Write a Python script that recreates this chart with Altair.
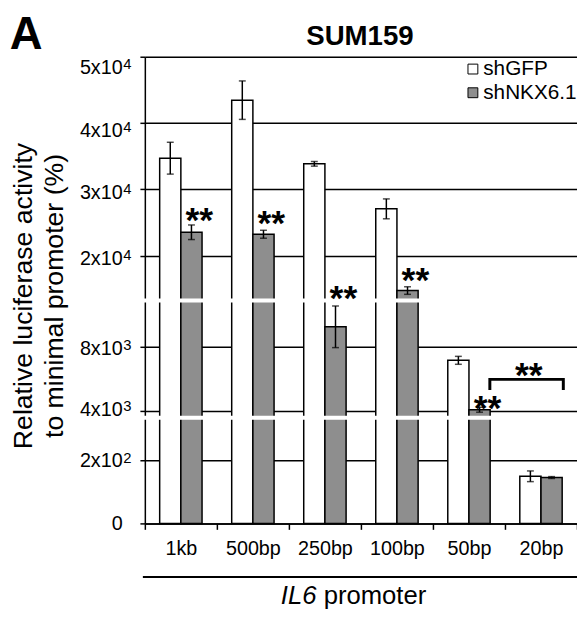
import altair as alt
import pandas as pd

# ---------------- data ----------------
categories = ["1kb", "500bp", "250bp", "100bp", "50bp", "20bp"]
groups = ["shGFP", "shNKX6.1"]
shGFP_mean = [34700, 43450, 33850, 27060, 7170, 150]
shGFP_err = [2400, 2900, 350, 1500, 250, 17]
shNKX_mean = [23530, 23230, 9280, 14740, 4060, 146]
shNKX_err = [1100, 600, 1310, 570, 155, 3]

star_categories = ["1kb", "500bp", "250bp", "100bp", "50bp"]
star_y = [26660, 26170, 14890, 17620, 4727]

bracket_x = [4.79, 4.79, 5.81, 5.81]
bracket_y = [5300, 5970, 5970, 5300]
bracket_star_x = [5.33]
bracket_star_y = [6795]

y_tick_values = [0, 200, 4000, 8000, 20000, 30000, 40000, 50000]
y_tick_base = ["0", "2x10", "4x10", "8x10", "2x10", "3x10", "4x10", "5x10"]
y_tick_exp = ["", "2", "3", "3", "4", "4", "4", "4"]
# where each tick label sits in the figure (the top two sit a little below their lines)
y_tick_label_at = [0, 200, 4106, 7957, 19583, 29657, 38883, 48510]

# broken axis: domain break points of the piecewise scale
axis_domain = [0, 336, 3550, 10940, 13250, 50000]
break_values = [13250, 336]

y_title = ["Relative luciferase activity", "to  minimal promoter (%)"]

# ---------------- tables ----------------
rows = []
for i, c in enumerate(categories):
    rows.append({"cat": c, "grp": groups[0], "mean": shGFP_mean[i],
                 "lo": shGFP_mean[i] - shGFP_err[i], "hi": shGFP_mean[i] + shGFP_err[i]})
    rows.append({"cat": c, "grp": groups[1], "mean": shNKX_mean[i],
                 "lo": shNKX_mean[i] - shNKX_err[i], "hi": shNKX_mean[i] + shNKX_err[i]})
df = pd.DataFrame(rows)
stars = pd.DataFrame({"cat": star_categories, "grp": [groups[1]] * len(star_categories),
                      "y": star_y, "label": ["**"] * len(star_categories)})
bracket = pd.DataFrame({"x": bracket_x, "y": bracket_y, "order": list(range(len(bracket_x)))})
bstar = pd.DataFrame({"x": bracket_star_x, "y": bracket_star_y, "label": ["**"]})
breaks = pd.DataFrame({"b": break_values})
ylab = pd.DataFrame({"pos": y_tick_label_at, "base": y_tick_base, "exp": y_tick_exp})

W, H = 438, 473
FONT = "Liberation Sans"

yscale = alt.Scale(domain=axis_domain, range=[473, 366, 366, 247, 247, 0], nice=False, zero=False)
yaxis = alt.Axis(values=y_tick_values, labels=False, grid=True, gridColor="black",
                 gridWidth=1.5, domainColor="black", domainWidth=1.5, tickColor="black",
                 tickWidth=1.5, tickSize=5, titleFont=FONT, titleFontSize=27,
                 titleFontWeight="normal", titleColor="black", titleAngle=270, titleX=-115,
                 titleY=242, titleAlign="center", titleBaseline="alphabetic",
                 titleLineHeight=32)


def Y(field):
    return alt.Y(field, type="quantitative", scale=yscale, axis=yaxis, title=y_title)


xscale = alt.Scale(domain=categories, paddingInner=0, paddingOuter=0)
xaxis = alt.Axis(domainColor="black", domainWidth=1.5, tickBand="extent", tickSize=6,
                 tickWidth=1.5, tickColor="black", labelFontSize=20, labelFont=FONT,
                 labelColor="black", labelPadding=10, labelAngle=0, grid=False, title=None)


def X(show_axis=False):
    if show_axis:
        return alt.X("cat:N", sort=categories, scale=xscale, axis=xaxis, title=None)
    return alt.X("cat:N", sort=categories, scale=xscale, axis=None, title=None)


xoff = alt.XOffset("grp:N", scale=alt.Scale(domain=groups, paddingOuter=0.7, paddingInner=0))

bars = alt.Chart(df).mark_bar(stroke="black", strokeWidth=1.5).encode(
    x=X(True), xOffset=xoff, y=Y("mean"),
    fill=alt.Fill("grp:N", scale=alt.Scale(domain=groups, range=["white", "#8e8e8e"]),
                  legend=alt.Legend(orient="none", legendX=322, legendY=2, title=None,
                                    labelFontSize=21, labelFont=FONT, labelColor="black",
                                    symbolType="square", symbolSize=100,
                                    symbolStrokeColor="black", symbolStrokeWidth=1,
                                    labelOffset=0, rowPadding=2, padding=0)),
)

gaps = alt.Chart(breaks).mark_rule(color="white", strokeWidth=4).encode(
    y=Y("b"), x=alt.value(-5), x2=alt.value(W)
)

err = alt.Chart(df).mark_rule(color="black", strokeWidth=1.5).encode(
    x=X(), xOffset=xoff, y=Y("lo"), y2="hi"
)
cap_lo = alt.Chart(df).mark_tick(color="black", thickness=1.5, size=7).encode(
    x=X(), xOffset=xoff, y=Y("lo")
)
cap_hi = alt.Chart(df).mark_tick(color="black", thickness=1.5, size=7).encode(
    x=X(), xOffset=xoff, y=Y("hi")
)

star_marks = alt.Chart(stars).mark_text(font=FONT, fontWeight="bold", fontSize=36, dx=8, dy=21,
                                        baseline="alphabetic", align="center",
                                        color="black").encode(
    x=X(), xOffset=xoff, y=Y("y"), text="label:N"
)

lin_x = alt.Scale(domain=[0, 6], range=[0, W], nice=False, zero=False)
bracket_line = alt.Chart(bracket).mark_line(color="black", strokeWidth=3, strokeCap="butt",
                                            strokeJoin="miter").encode(
    x=alt.X("x:Q", scale=lin_x, axis=None), y=Y("y"), order="order:Q"
)
bracket_star = alt.Chart(bstar).mark_text(font=FONT, fontWeight="bold", fontSize=36, dy=21,
                                          baseline="alphabetic", align="center",
                                          color="black").encode(
    x=alt.X("x:Q", scale=lin_x, axis=None), y=Y("y"), text="label:N"
)

# y tick labels with real superscripts
ylab_base = alt.Chart(ylab).mark_text(font=FONT, fontSize=20, align="right", dy=7,
                                      baseline="alphabetic", color="black").encode(
    y=Y("pos"), x=alt.value(-22.5), text="base:N")
ylab_exp = alt.Chart(ylab).mark_text(font=FONT, fontSize=15, align="left", dy=2,
                                     baseline="alphabetic", color="black").encode(
    y=Y("pos"), x=alt.value(-22), text="exp:N")

dummy = pd.DataFrame({"t": [""]})
title_txt = alt.Chart(pd.DataFrame({"t": ["SUM159"]})).mark_text(
    font=FONT, fontWeight="bold", fontSize=28, align="center", baseline="alphabetic",
    color="black").encode(text="t:N", x=alt.value(218), y=alt.value(-11.6))
panel_txt = alt.Chart(pd.DataFrame({"t": ["A"]})).mark_text(
    font=FONT, fontWeight="bold", fontSize=46, align="left", baseline="alphabetic",
    color="black").encode(text="t:N", x=alt.value(-137), y=alt.value(-8.3))
il6_txt = alt.Chart(pd.DataFrame({"t": ["IL6"]})).mark_text(
    font=FONT, fontStyle="italic", fontSize=26, align="right", baseline="alphabetic",
    color="black").encode(text="t:N", x=alt.value(174), y=alt.value(554.5))
prom_txt = alt.Chart(pd.DataFrame({"t": ["promoter"]})).mark_text(
    font=FONT, fontSize=26, align="left", baseline="alphabetic",
    color="black").encode(text="t:N", x=alt.value(181.2), y=alt.value(554.5))
underline = alt.Chart(dummy).mark_rule(color="black", strokeWidth=2).encode(
    x=alt.value(-2), x2=alt.value(W), y=alt.value(527.4))

chart = alt.layer(
    bars, gaps, err, cap_lo, cap_hi, star_marks, bracket_line, bracket_star,
    ylab_base, ylab_exp, title_txt, panel_txt, il6_txt, prom_txt, underline
).resolve_scale(x="independent").properties(
    width=W, height=H,
    autosize=alt.AutoSizeParams(type="none"),
    padding={"left": 138.7, "top": 45.3, "right": 0, "bottom": 86},
).configure_view(stroke="transparent").configure(background="white")

chart.save("out.html", embed_options={"renderer": "svg", "actions": False})
